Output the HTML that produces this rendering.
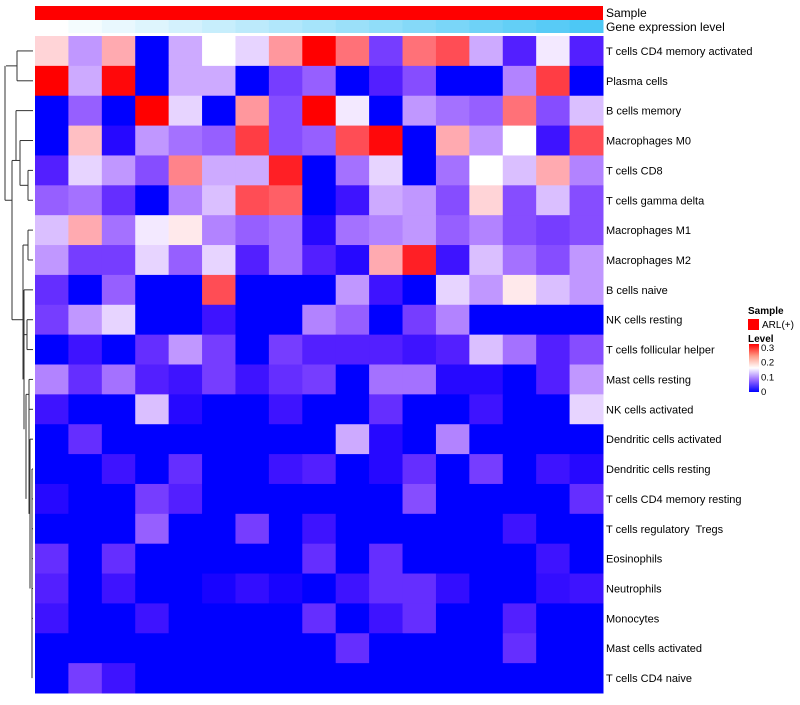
<!DOCTYPE html>
<html><head><meta charset="utf-8"><style>
body{margin:0;background:#fff;font-family:"Liberation Sans",sans-serif}
svg text{font-family:"Liberation Sans",sans-serif;white-space:pre}
</style></head><body>
<svg id="chart" width="800" height="700" xmlns="http://www.w3.org/2000/svg"></svg>
<script>
const rowLabels=["T cells CD4 memory activated","Plasma cells","B cells memory","Macrophages M0","T cells CD8","T cells gamma delta","Macrophages M1","Macrophages M2","B cells naive","NK cells resting","T cells follicular helper","Mast cells resting","NK cells activated","Dendritic cells activated","Dendritic cells resting","T cells CD4 memory resting","T cells regulatory  Tregs","Eosinophils","Neutrophils","Monocytes","Mast cells activated","T cells CD4 naive"];
const geneLevel=[0,1,2,3,4,5,6,7,8,9,10,11,12,13,14,15,16];
const values=[
[0.17,0.10,0.19,0,0.11,0.15,0.13,0.20,0.30,0.22,0.05,0.22,0.24,0.11,0.03,0.14,0.03],
[0.30,0.11,0.29,0,0.11,0.11,0,0.05,0.07,0,0.03,0.06,0,0,0.09,0.25,0],
[0,0.07,0,0.30,0.13,0,0.20,0.06,0.30,0.14,0,0.10,0.08,0.07,0.22,0.06,0.12],
[0,0.18,0.01,0.10,0.08,0.07,0.25,0.06,0.07,0.24,0.29,0,0.19,0.10,0.15,0.02,0.24],
[0.03,0.13,0.10,0.06,0.21,0.11,0.11,0.27,0,0.08,0.13,0,0.08,0.15,0.12,0.19,0.09],
[0.07,0.08,0.04,0,0.09,0.12,0.24,0.23,0,0.02,0.11,0.10,0.06,0.17,0.06,0.12,0.06],
[0.12,0.19,0.08,0.14,0.16,0.09,0.07,0.08,0.01,0.08,0.09,0.10,0.07,0.09,0.06,0.05,0.06],
[0.10,0.05,0.05,0.13,0.07,0.13,0.03,0.08,0.03,0.01,0.19,0.27,0.02,0.12,0.08,0.06,0.10],
[0.04,0,0.07,0,0,0.24,0,0,0,0.10,0.02,0,0.13,0.10,0.16,0.12,0.10],
[0.05,0.10,0.13,0,0,0.02,0,0,0.09,0.07,0,0.05,0.09,0,0,0,0],
[0,0.02,0,0.04,0.10,0.05,0,0.05,0.03,0.03,0.03,0.02,0.03,0.12,0.08,0.03,0.06],
[0.09,0.04,0.08,0.03,0.02,0.05,0.02,0.04,0.05,0,0.08,0.08,0.01,0.01,0,0.03,0.10],
[0.02,0,0,0.12,0.01,0,0,0.02,0,0,0.04,0,0,0.02,0,0,0.13],
[0,0.04,0,0,0,0,0,0,0,0.11,0.01,0,0.09,0,0,0,0],
[0,0,0.02,0,0.04,0,0,0.02,0.03,0,0.01,0.04,0,0.05,0,0.02,0.01],
[0.01,0,0,0.05,0.03,0,0,0,0,0,0,0.06,0,0,0,0,0.04],
[0,0,0,0.07,0,0,0.05,0,0.02,0,0,0,0,0,0.02,0,0],
[0.04,0,0.04,0,0,0,0,0,0.04,0,0.04,0,0,0,0,0.02,0],
[0.03,0,0.02,0,0,0.005,0.015,0.005,0,0.02,0.04,0.04,0.015,0,0,0.015,0.02],
[0.02,0,0,0.02,0,0,0,0,0.04,0,0.02,0.04,0,0,0.03,0,0],
[0,0,0,0,0,0,0,0,0,0.04,0,0,0,0,0.04,0,0],
[0,0.05,0.02,0,0,0,0,0,0,0,0,0,0,0,0,0,0]
];
const NS="http://www.w3.org/2000/svg";
const svg=document.getElementById('chart');
const X0=35,X1=603,Y0=36,Y1=693;
const nC=geneLevel.length,nR=rowLabels.length;
const cw=(X1-X0)/nC,rh=(Y1-Y0)/nR;
const xPos=c=>X0+c*cw, yPos=r=>Y0+r*rh;
function lerp(a,b,t){return Math.round(a+(b-a)*t)}
function color(v){
  v=Math.max(0,Math.min(0.3,v));
  if(v<=0.15){const t=v/0.15;return `rgb(${Math.round(255*Math.pow(t,0.7))},${Math.round(255*Math.pow(t,1.3))},255)`;}
  const t=1-(v-0.15)/0.15;return `rgb(255,${Math.round(255*Math.pow(t,1.3))},${Math.round(255*Math.pow(t,1.2))})`;
}
function geneColor(g){const t=g/(nC-1);return `rgb(${lerp(255,77,t)},${lerp(255,200,t)},${lerp(255,245,t)})`;}
function mk(tag,attrs){const e=document.createElementNS(NS,tag);for(const k in attrs)e.setAttribute(k,attrs[k]);svg.appendChild(e);return e;}
const sb=mk('rect',{x:X0,y:6,width:X1-X0,height:14,fill:'#ff0000'});


geneLevel.forEach((g,c)=>{
  const r=mk('rect',{x:xPos(c),y:20,width:cw+0.5,height:13,fill:geneColor(g)});
  
  
});
let t=mk('text',{x:606,y:17,'font-size':12});t.textContent='Sample';


t=mk('text',{x:606,y:31,'font-size':12});t.textContent='Gene expression level';


values.forEach((row,r)=>row.forEach((v,c)=>{
  const e=mk('rect',{x:xPos(c),y:yPos(r),width:cw+0.5,height:rh+0.5,fill:color(v)});
  
  
}));
rowLabels.forEach((l,r)=>{
  const e=mk('text',{x:606,y:yPos(r)+rh/2+4,'font-size':11,fill:'#000'});
  e.textContent=l;
  
  
});
const yc=r=>yPos(r)+rh/2;
const segs=[
 [33,yc(0),17,yc(0)],[33,yc(1),17,yc(1)],[17,yc(0),17,yc(1)],
 [17,(yc(0)+yc(1))/2,6,(yc(0)+yc(1))/2],
 [33,yc(4),28,yc(4)],[33,yc(5),28,yc(5)],[28,yc(4),28,yc(5)],
 [28,(yc(4)+yc(5))/2,20,(yc(4)+yc(5))/2],[33,yc(3),20,yc(3)],[20,yc(3),20,(yc(4)+yc(5))/2],
 [20,(yc(3)+yc(4))/2+5,16,(yc(3)+yc(4))/2+5],[33,yc(2),16,yc(2)],[16,yc(2),16,(yc(3)+yc(4))/2+5],
 [33,yc(6),28,yc(6)],[33,yc(7),28,yc(7)],[28,yc(6),28,yc(7)],[28,(yc(6)+yc(7))/2,23,(yc(6)+yc(7))/2],
 [33,yc(8),24,yc(8)],[33,yc(9),27,yc(9)],[33,yc(10),27,yc(10)],[27,yc(9),27,yc(10)],
 [27,(yc(9)+yc(10))/2,24,(yc(9)+yc(10))/2],[24,yc(8),24,(yc(9)+yc(10))/2],
 [33,yc(11),29,yc(11)],[33,yc(12),29,yc(12)],[29,yc(11),29,yc(12)],[29,(yc(11)+yc(12))/2,26,(yc(11)+yc(12))/2],
 [33,yc(13),30,yc(13)],[33,yc(14),32,yc(14)],[33,yc(15),32,yc(15)],[33,yc(16),32,yc(16)],[33,yc(17),32,yc(17)],
 [33,yc(18),32,yc(18)],[33,yc(19),32,yc(19)],[33,yc(20),33,yc(20)],[33,yc(21),33,yc(21)],
 [32,yc(14),32,yc(21)],[30,yc(13),30,yc(18)],[29,(yc(13)+yc(18))/2,29,(yc(11)+yc(12))/2+8],
 [26,(yc(11)+yc(12))/2,26,yc(15)],[24,(yc(8)+yc(10))/2,24,yc(12)+20],[23,(yc(6)+yc(7))/2,23,yc(11)],
 [12,(yc(3)+yc(4))/2+5,12,yc(9)],[12,(yc(3)+yc(4))/2+5,16,(yc(3)+yc(4))/2+5],[12,yc(9),23,yc(9)],
 [5,(yc(0)+yc(1))/2,5,yc(5)],[5,yc(5),12,yc(5)]
];
segs.forEach(s=>{
  const l=mk('line',{x1:s[0],y1:s[1],x2:s[2],y2:s[3],stroke:'#333','stroke-width':1});
  
  
});
t=mk('text',{x:748,y:314,'font-size':10,'font-weight':'bold'});t.textContent='Sample';


const sq=mk('rect',{x:748,y:319,width:11,height:11,fill:'#ff0000'});


t=mk('text',{x:762,y:328,'font-size':10});t.textContent='ARL(+)';


t=mk('text',{x:748,y:342,'font-size':10,'font-weight':'bold'});t.textContent='Level';


const defs=mk('defs',{});
defs.innerHTML='<linearGradient id="lg" x1="0" y1="1" x2="0" y2="0"><stop offset="0" stop-color="#0000ff"/><stop offset="0.25" stop-color="#9a6cff"/><stop offset="0.5" stop-color="#ffffff"/><stop offset="0.75" stop-color="#ff9a86"/><stop offset="1" stop-color="#ff0000"/></linearGradient>';
const cb=mk('rect',{x:749,y:344,width:10,height:48,fill:'url(#lg)'});


const levelTicks=["0.3","0.2","0.1","0"];
const levelTickVals=[0.3,0.2,0.1,0];
levelTicks.forEach((lab,i)=>{
  const y=392-levelTickVals[i]/0.3*44;
  const e=mk('text',{x:761,y:y+3,'font-size':9.5});e.textContent=lab;
  
  
});
</script>
</body></html>
